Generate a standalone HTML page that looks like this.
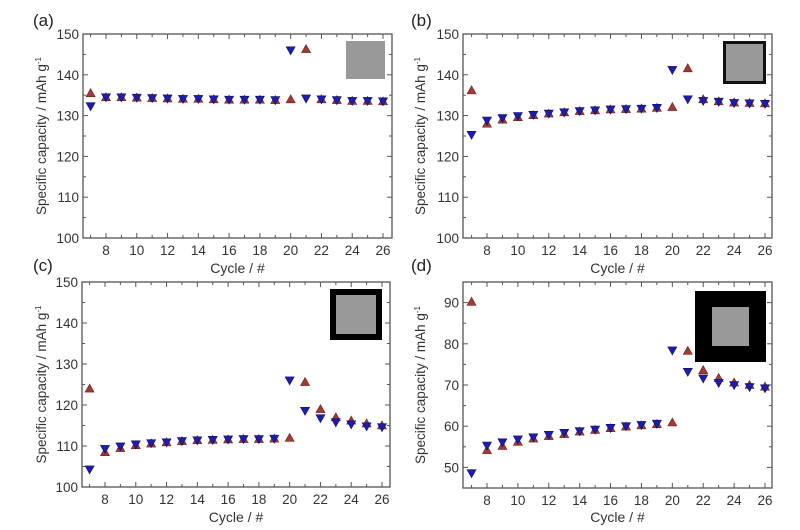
<!DOCTYPE html>
<html><head><meta charset="utf-8"><style>
html,body{margin:0;padding:0;background:#fff;}
svg{display:block;font-family:"Liberation Sans",Arial,sans-serif;}
</style></head><body>
<svg id="s" width="800" height="530" xmlns="http://www.w3.org/2000/svg"></svg>
<script>
const S=document.getElementById('s');let h='';
const panels=[
{L:'(a)',lx:33,ly:26,f:[83,34,392,238],x8:106,x26:383,ymin:100,ymax:150,yt:[100,110,120,130,140,150],minor:5,
 r:[135.5,134.5,134.5,134.4,134.3,134.2,134.1,134.1,134.0,133.9,133.9,133.9,133.8,134.0,146.3,134.0,133.8,133.6,133.6,133.5],
 b:[132.3,134.5,134.5,134.4,134.3,134.2,134.1,134.1,134.0,133.9,133.9,133.9,133.8,146.0,134.2,134.0,133.8,133.6,133.6,133.5],
 ins:'<rect x="346" y="41" width="39" height="38" fill="#999"/>',ylx:46,cy:273},
{L:'(b)',lx:411,ly:26,f:[463,34,772,238],x8:487,x26:765,ymin:100,ymax:150,yt:[100,110,120,130,140,150],minor:5,
 r:[136.2,128.0,129.0,129.6,130.1,130.5,130.8,131.1,131.3,131.5,131.6,131.7,131.9,132.1,141.6,134.0,133.5,133.2,133.1,133.0],
 b:[125.3,128.8,129.4,129.9,130.2,130.5,130.8,131.1,131.3,131.5,131.6,131.7,131.9,141.2,134.0,133.6,133.4,133.1,133.0,132.9],
 ins:'<rect x="724.5" y="42.5" width="40" height="40" fill="#999" stroke="#111" stroke-width="3"/>',ylx:425,cy:273},
{L:'(c)',lx:33,ly:271,f:[82,282,390,487],x8:105,x26:382,ymin:100,ymax:150,yt:[100,110,120,130,140,150],minor:5,
 r:[124.0,108.5,109.5,110.2,110.6,110.9,111.2,111.4,111.5,111.6,111.7,111.7,111.8,112.0,125.6,119.0,117.0,116.2,115.5,115.0],
 b:[104.3,109.3,109.9,110.4,110.7,110.9,111.2,111.4,111.5,111.6,111.7,111.7,111.8,126.0,118.6,116.8,115.8,115.3,114.8,114.6],
 ins:'<rect x="333" y="292" width="46" height="45" fill="#999" stroke="#000" stroke-width="6"/>',ylx:46,cy:522},
{L:'(d)',lx:411,ly:271,f:[463,282,772,488],x8:487,x26:765,ymin:45,ymax:95,yt:[50,60,70,80,90],minor:5,
 r:[90.2,54.2,55.2,56.2,57.0,57.6,58.1,58.7,59.1,59.5,59.9,60.2,60.5,60.9,78.3,73.6,71.7,70.6,70.0,69.6],
 b:[48.6,55.3,56.1,56.8,57.3,57.9,58.4,58.8,59.2,59.6,60.0,60.3,60.6,78.4,73.2,71.6,70.5,70.0,69.5,69.2],
 ins:'<rect x="695" y="291" width="71" height="71" fill="#000"/><rect x="712" y="307" width="37" height="39" fill="#999"/>',ylx:425,cy:522}
];
for(const p of panels){
 const [x0,y0,x1,y1]=p.f, dx=(p.x26-p.x8)/18;
 const X=c=>p.x8+(c-8)*dx, Y=v=>y1-(v-p.ymin)/(p.ymax-p.ymin)*(y1-y0);
 h+=p.ins;
 h+=`<rect x="${x0}" y="${y0}" width="${x1-x0}" height="${y1-y0}" fill="none" stroke="#555" stroke-width="1.3"/>`;
 for(let c=7;c<=26;c++){const x=X(c),l=c%2?3:5;
  h+=`<line x1="${x}" y1="${y1}" x2="${x}" y2="${y1-l}" stroke="#555"/><line x1="${x}" y1="${y0}" x2="${x}" y2="${y0+l}" stroke="#555"/>`;
  if(c%2==0)h+=`<text x="${x}" y="${y1+17}" font-size="13.5" fill="#333" text-anchor="middle">${c}</text>`;}
 for(let v=p.ymin;v<=p.ymax;v+=p.minor){const y=Y(v),l=(v%10==0)?5:3;
  h+=`<line x1="${x0}" y1="${y}" x2="${x0+l}" y2="${y}" stroke="#555"/><line x1="${x1}" y1="${y}" x2="${x1-l}" y2="${y}" stroke="#555"/>`;}
 for(const v of p.yt)h+=`<text x="${x0-4}" y="${Y(v)+5}" font-size="13.5" fill="#333" text-anchor="end">${v}</text>`;
 h+=`<text x="${p.lx}" y="${p.ly}" font-size="17" fill="#222">${p.L}</text>`;
 const cy=(y0+y1)/2;
 h+=`<text transform="translate(${p.ylx},${cy}) rotate(-90)" font-size="13.5" fill="#333" text-anchor="middle">Specific capacity / mAh g<tspan dy="-5" font-size="8">-1</tspan></text>`;
 h+=`<text x="${(x0+x1)/2}" y="${p.cy}" font-size="14" fill="#333" text-anchor="middle">Cycle / #</text>`;
 for(let i=0;i<20;i++){const x=X(7+i);
  let y=Y(p.r[i]);h+=`<polygon points="${x-4.5},${y+3.5} ${x+4.5},${y+3.5} ${x},${y-4.5}" fill="#a33a33" stroke="#6b1f1f" stroke-width=".6"/>`;
  y=Y(p.b[i]);h+=`<polygon points="${x-4.5},${y-3.5} ${x+4.5},${y-3.5} ${x},${y+4.5}" fill="#1c1cb0" stroke="#10105e" stroke-width=".6"/>`;}
}
S.innerHTML=h;
</script>
</body></html>
